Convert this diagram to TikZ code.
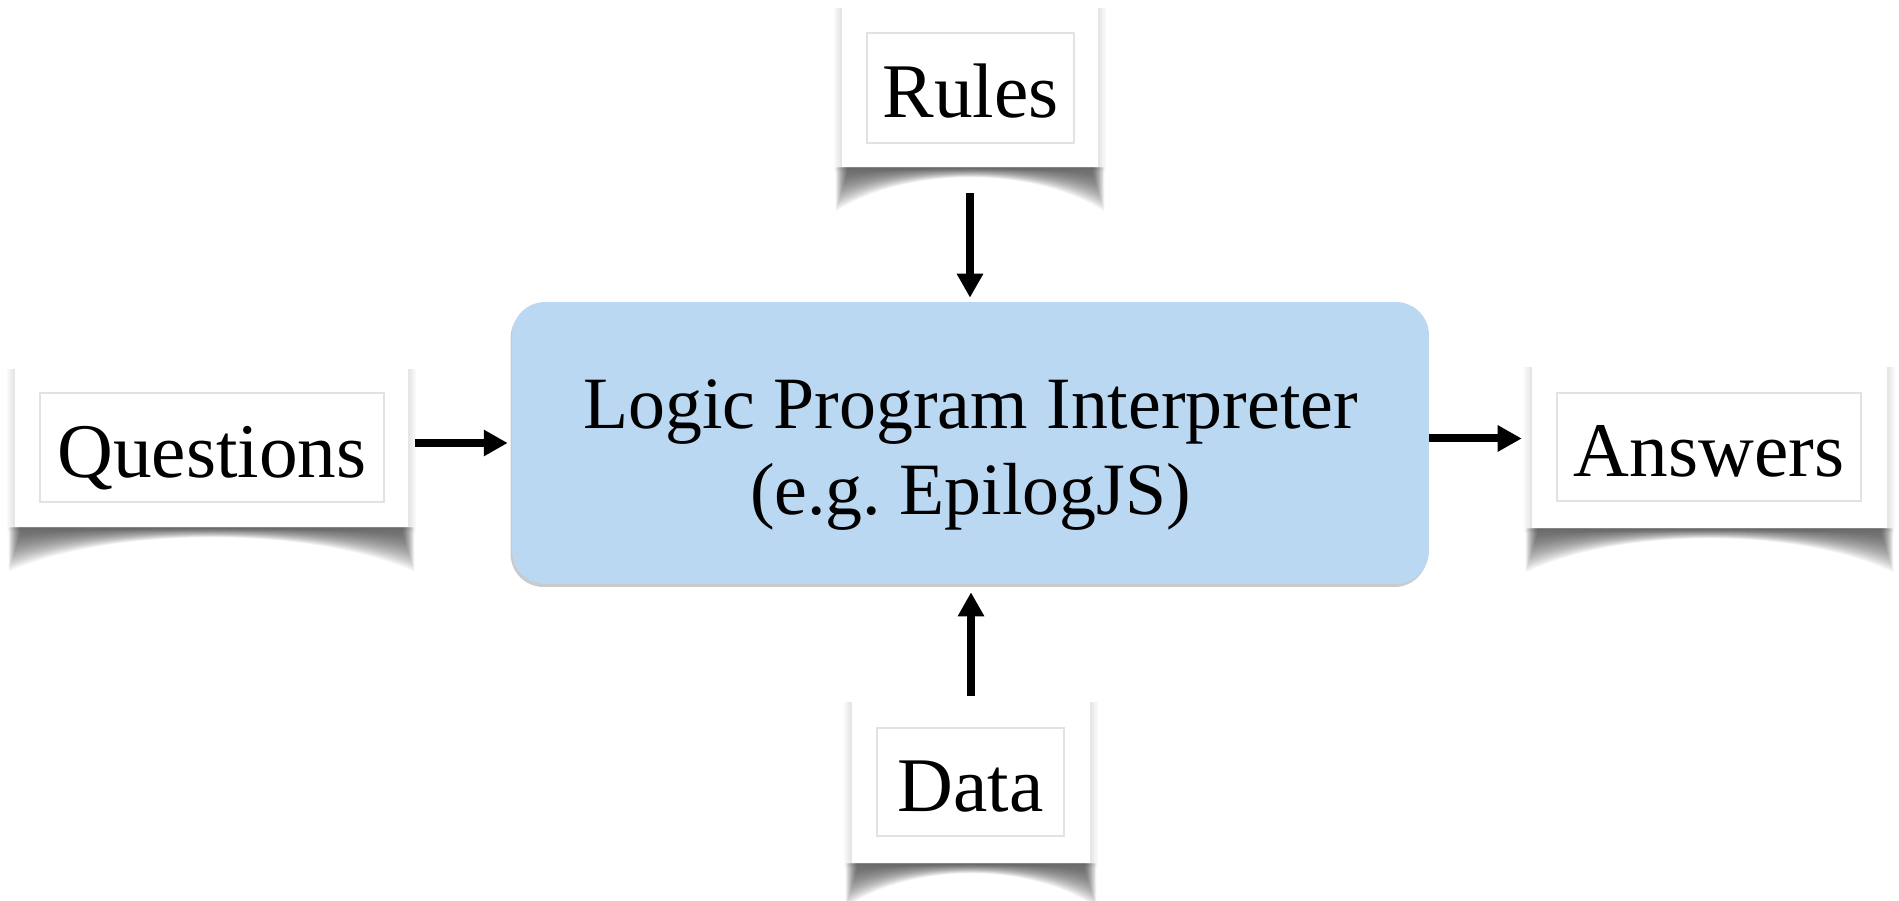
\documentclass[tikz,border=0pt]{standalone}
\usepackage{fontspec}
\setmainfont{Liberation Serif}
\usetikzlibrary{arrows.meta,shadows,calc}

\definecolor{interpblue}{RGB}{186,216,242}
\definecolor{framegray}{RGB}{226,226,226}

% curled paper shadow under a card
\newcommand{\curlshadow}[1]{%
  \foreach \k in {0,...,19}{
    \fill[black,opacity=0.04]
      ($(#1.south west)+(-6+0.6*\k,0)$) --
      ($(#1.south west)+(-6+0.6*\k,44-1.9*\k)$)
      .. controls ($(#1.south)!0.5!(#1.south west)+(0,{(10-0.45*\k-0.25*(44-1.9*\k))/0.75})$)
      and ($(#1.south)!0.5!(#1.south east)+(0,{(10-0.45*\k-0.25*(44-1.9*\k))/0.75})$) ..
      ($(#1.south east)+(6-0.6*\k,44-1.9*\k)$) --
      ($(#1.south east)+(6-0.6*\k,0)$) -- cycle;
  }
  \foreach \d in {1,...,5}{
    \fill[black,opacity=0.018]
      ($(#1.north west)+(-1.6*\d,0)$) rectangle ($(#1.south east)+(1.6*\d,\d)$);
  }}

\begin{document}
\begin{tikzpicture}[x=0.02cm,y=-0.02cm,
  card/.style={rectangle,fill=white,inner sep=0pt},
  cardframe/.style={rectangle,draw=framegray,line width=0.7pt,fill=white,
    inner sep=0pt,font=\fontsize{44}{50}\selectfont,
    text height=34pt,text depth=0pt},
  interpbox/.style={rectangle,rounded corners=0.66cm,fill=interpblue,
    minimum width=18.34cm,minimum height=5.64cm,
    drop shadow={shadow xshift=-0.03cm,shadow yshift=-0.06cm,opacity=0.35,fill=black!60}},
  interplabel/.style={align=center,inner sep=0pt,font=\fontsize{42}{48.5}\selectfont},
  flow/.style={line width=0.16cm,-{Triangle[width=0.5cm,length=0.48cm]}}]

\useasboundingbox (0,0) rectangle (1899,901);

% cards
\coordinate (rulespos) at (970,87.5);
\coordinate (questionspos) at (211.5,448);
\coordinate (answerspos) at (1709.5,447.5);
\coordinate (datapos) at (971,782.5);

\path (rulespos) node[card,minimum width=5.12cm,minimum height=3.18cm] (rules) {};
\path (questionspos) node[card,minimum width=7.86cm,minimum height=3.16cm] (questions) {};
\path (answerspos) node[card,minimum width=7.1cm,minimum height=3.22cm] (answers) {};
\path (datapos) node[card,minimum width=4.76cm,minimum height=3.22cm] (data) {};

% shadows
\curlshadow{rules}
\curlshadow{questions}
\curlshadow{answers}
\curlshadow{data}

% cards again on top of the shadows
\node[card,minimum width=5.12cm,minimum height=3.18cm] at (rulespos) {};
\node[card,minimum width=7.86cm,minimum height=3.16cm] at (questionspos) {};
\node[card,minimum width=7.1cm,minimum height=3.22cm] at (answerspos) {};
\node[card,minimum width=4.76cm,minimum height=3.22cm] at (datapos) {};

% labels
\node[cardframe,minimum width=4.14cm,minimum height=2.2cm] (rulestext) at (970.5,88) {Rules};
\node[cardframe,minimum width=6.88cm,minimum height=2.18cm] (questionstext) at (212,447.5) {Questions};
\node[cardframe,minimum width=6.08cm,minimum height=2.16cm] (answerstext) at (1709,447) {Answers};
\node[cardframe,minimum width=3.74cm,minimum height=2.16cm] (datatext) at (970.5,782) {Data};

% interpreter
\node[interpbox] (interp) at (970.5,443) {};
\node[interplabel] (interptext) at (970.5,455) {Logic Program Interpreter\\(e.g.\ EpilogJS)};

% arrows
\draw[flow,shorten <=0.52cm,shorten >=0.08cm] (rules.south) -- (rules.south |- interp.north);
\draw[flow,shorten <=0.12cm,shorten >=0.16cm] (data.north) -- (data.north |- interp.south);
\draw[flow,shorten <=0.14cm,shorten >=0.08cm]
  ([yshift=0.1cm]questions.east) -- ([yshift=0.1cm]questions.east -| interp.west);
\draw[flow,shorten >=0.2cm]
  ([yshift=0.09cm]interp.east) -- ([yshift=0.09cm]interp.east -| answers.west);

\end{tikzpicture}
\end{document}
